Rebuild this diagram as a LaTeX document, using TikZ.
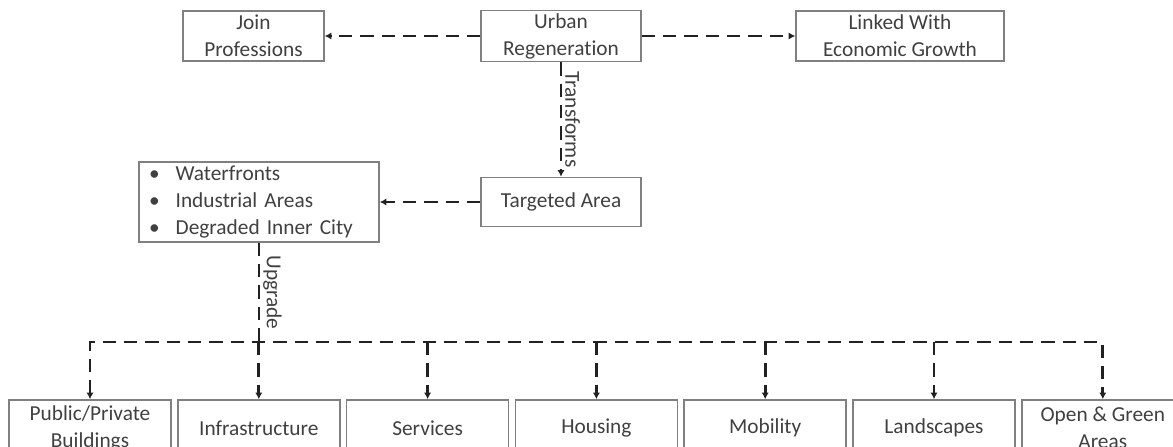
\documentclass[tikz,border=0pt]{standalone}
\usepackage{fontspec}
\setmainfont{Carlito}[Ligatures=NoCommon]
\usetikzlibrary{arrows.meta}
\definecolor{boxgray}{gray}{0.5}
\definecolor{txtgray}{gray}{0.25}
\definecolor{linkgray}{gray}{0.13}
\newcommand{\px}{0.75pt}
\tikzset{
  box/.style={draw=boxgray, line width=1.2pt, text=txtgray, align=center, inner sep=2pt, font=\fontsize{16}{20.3}\selectfont},
  topbox/.style={box, minimum height=50*\px},
  leafbox/.style={box, minimum width=162*\px, minimum height=56*\px},
  link/.style={draw=linkgray, line width=2.2pt, dash pattern=on 10pt off 6pt, -{Latex[length=5pt,width=5.5pt]}},
  tag/.style={text=txtgray, font=\fontsize{16}{20.3}\selectfont, rotate=-90, anchor=south, inner sep=2pt}
}

\begin{document}
\begin{tikzpicture}[x=0.75pt,y=-0.75pt]
\useasboundingbox (0,0) rectangle (1173,446);

\node[topbox, minimum width=141*\px] (join) at (253.5,36) {Join\\Professions};
\node[topbox, minimum width=160*\px] (urban) at (561,36) {Urban\\Regeneration};
\node[topbox, minimum width=208*\px] (linked) at (900,36) {Linked With\\Economic Growth};
\node[box, minimum width=160*\px, minimum height=49*\px] (target) at (561,202) {Targeted Area};
\node[box, align=left, text width=165pt, inner xsep=7.5pt, minimum height=80*\px] (areas) at (259,202) {\makebox[20pt][l]{\textbullet}Waterfronts\\\makebox[20pt][l]{\textbullet}Industrial Areas\\\makebox[20pt][l]{\textbullet}Degraded Inner City};

\node[leafbox] (build) at (90,428) {Public/Private\\Buildings};
\node[leafbox] (infra) at (258.8,428) {Infrastructure};
\node[leafbox] (serv) at (427.6,428) {Services};
\node[leafbox] (house) at (596.4,428) {Housing};
\node[leafbox] (mob) at (765.2,428) {Mobility};
\node[leafbox] (land) at (934,428) {Landscapes};
\node[leafbox] (green) at (1102.8,428) {Open \& Green\\Areas};

\coordinate (bus) at (0,342);

\draw[link] (urban.west) -- (join.east);
\draw[link] (urban.east) -- (linked.west);
\draw[link] (urban.south) -- node[tag]{Transforms} (target.north);
\draw[link] (target.west) -- (areas.east);
\draw[link,-] (areas.south) -- node[tag]{Upgrade} (areas.south |- bus);
\draw[link,{Latex[length=5pt,width=5.5pt]}-{Latex[length=5pt,width=5.5pt]}] (build.north) |- (green.north |- bus) -- (green.north);
\draw[link] (infra.north |- bus) -- (infra.north);
\draw[link] (serv.north |- bus) -- (serv.north);
\draw[link] (house.north |- bus) -- (house.north);
\draw[link] (mob.north |- bus) -- (mob.north);
\draw[link] (land.north |- bus) -- (land.north);
\end{tikzpicture}
\end{document}
